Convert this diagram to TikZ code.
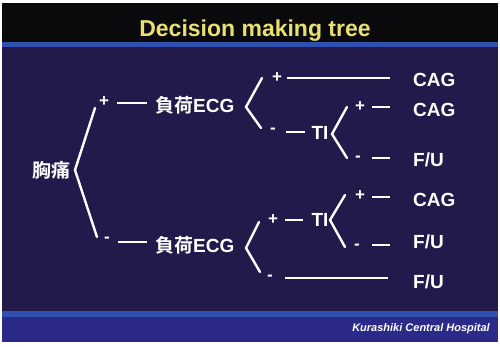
\documentclass[tikz,border=0pt]{standalone}
\usepackage{fontspec}
\setmainfont{Liberation Sans}
\newfontfamily\cjk{Noto Sans CJK JP}[BoldFont={* Bold}]
\definecolor{bodybg}{HTML}{211A4A}
\definecolor{titlebg}{HTML}{0A0A0C}
\definecolor{blueline}{HTML}{3050B0}
\definecolor{footbg}{HTML}{2C2A88}
\definecolor{titleyellow}{HTML}{E8E070}
\begin{document}
\begin{tikzpicture}[x=1pt,y=-1pt,
  lbl/.style={text=white, font=\bfseries\fontsize{19}{19}\selectfont, inner sep=0pt, text height=13.6pt, text depth=0pt},
  cjklbl/.style={text=white, font=\bfseries\fontsize{19}{19}\selectfont, inner sep=0pt},
  sign/.style={text=white, font=\bfseries\fontsize{17}{17}\selectfont, inner sep=0pt},
  br/.style={draw=white, line width=2.4pt, line join=miter, line cap=round},
  dsh/.style={draw=white, line width=2.4pt}]
\useasboundingbox (0,0) rectangle (500,347);
% background
\fill[white] (0,0) rectangle (500,347);
\fill[bodybg] (2,3) rectangle (498,342);
\fill[titlebg] (2,3) rectangle (498,42);
\fill[blueline] (2,42) rectangle (498,47);
\fill[blueline] (2,311) rectangle (498,317);
\fill[footbg] (2,317) rectangle (498,342);
% title and footer
\node[text=titleyellow, font=\bfseries\fontsize{23}{23}\selectfont, inner sep=0pt] (title) at (255,31) {Decision making tree};
\node[text=white, font=\bfseries\itshape\fontsize{11}{11}\selectfont, inner sep=0pt, anchor=east] (foot) at (490,329) {Kurashiki Central Hospital};
% root
\node[cjklbl, font=\cjk\bfseries\fontsize{19}{19}\selectfont] (root) at (51,170) {胸痛};
\coordinate (r0) at (75,170); \coordinate (r1) at (95,108); \coordinate (r2) at (97,237);
\draw[br] (r1) -- (r0) -- (r2);
% upper ECG
\node[sign] (p1) at (104,102) {+};
\coordinate (d1a) at (117,103); \coordinate (d1b) at (147,103);
\draw[dsh] (d1a) -- (d1b);
\node[cjklbl, anchor=west] (ecg1) at (155,105) {{\cjk 負荷}ECG};
% lower ECG
\node[sign] (m1) at (107,240) {-};
\coordinate (d2a) at (118,242); \coordinate (d2b) at (147,242);
\draw[dsh] (d2a) -- (d2b);
\node[cjklbl, anchor=west] (ecg2) at (155,245) {{\cjk 負荷}ECG};
% bracket B1
\coordinate (b1v) at (246,107); \coordinate (b1u) at (262,78); \coordinate (b1l) at (261,128);
\draw[br] (b1u) -- (b1v) -- (b1l);
\node[sign] (p2) at (277,78) {+};
\coordinate (l1a) at (287,78); \coordinate (l1b) at (390,78);
\draw[dsh] (l1a) -- (l1b);
\node[lbl, anchor=west] (cag1) at (413,80) {CAG};
\node[sign] (m2) at (273,131) {-};
\coordinate (d3a) at (286,132); \coordinate (d3b) at (305,132);
\draw[dsh] (d3a) -- (d3b);
\node[lbl] (ti1) at (320,133) {TI};
% bracket B2
\coordinate (b2v) at (332,134); \coordinate (b2u) at (347,107); \coordinate (b2l) at (347,158);
\draw[br] (b2u) -- (b2v) -- (b2l);
\node[sign] (p3) at (360,107) {+};
\coordinate (d4a) at (372,107); \coordinate (d4b) at (390,107);
\draw[dsh] (d4a) -- (d4b);
\node[lbl, anchor=west] (cag2) at (413,110) {CAG};
\node[sign] (m3) at (358,159) {-};
\coordinate (d5a) at (372,158); \coordinate (d5b) at (390,158);
\draw[dsh] (d5a) -- (d5b);
\node[lbl, anchor=west] (fu1) at (413,160) {F/U};
% bracket B3
\coordinate (b3v) at (246,248); \coordinate (b3u) at (259,222); \coordinate (b3l) at (260,272);
\draw[br] (b3u) -- (b3v) -- (b3l);
\node[sign] (p4) at (273,220) {+};
\coordinate (d6a) at (285,220); \coordinate (d6b) at (303,220);
\draw[dsh] (d6a) -- (d6b);
\node[lbl] (ti2) at (320,220) {TI};
% bracket B4
\coordinate (b4v) at (330,220); \coordinate (b4u) at (345,195); \coordinate (b4l) at (345,247);
\draw[br] (b4u) -- (b4v) -- (b4l);
\node[sign] (p5) at (360,196) {+};
\coordinate (d7a) at (372,197); \coordinate (d7b) at (390,197);
\draw[dsh] (d7a) -- (d7b);
\node[lbl, anchor=west] (cag3) at (413,200) {CAG};
\node[sign] (m5) at (357,247) {-};
\coordinate (d8a) at (372,245); \coordinate (d8b) at (390,245);
\draw[dsh] (d8a) -- (d8b);
\node[lbl, anchor=west] (fu2) at (413,242) {F/U};
\node[sign] (m4) at (270,278) {-};
\coordinate (l2a) at (285,278); \coordinate (l2b) at (388,278);
\draw[dsh] (l2a) -- (l2b);
\node[lbl, anchor=west] (fu3) at (413,282) {F/U};
\end{tikzpicture}
\end{document}
